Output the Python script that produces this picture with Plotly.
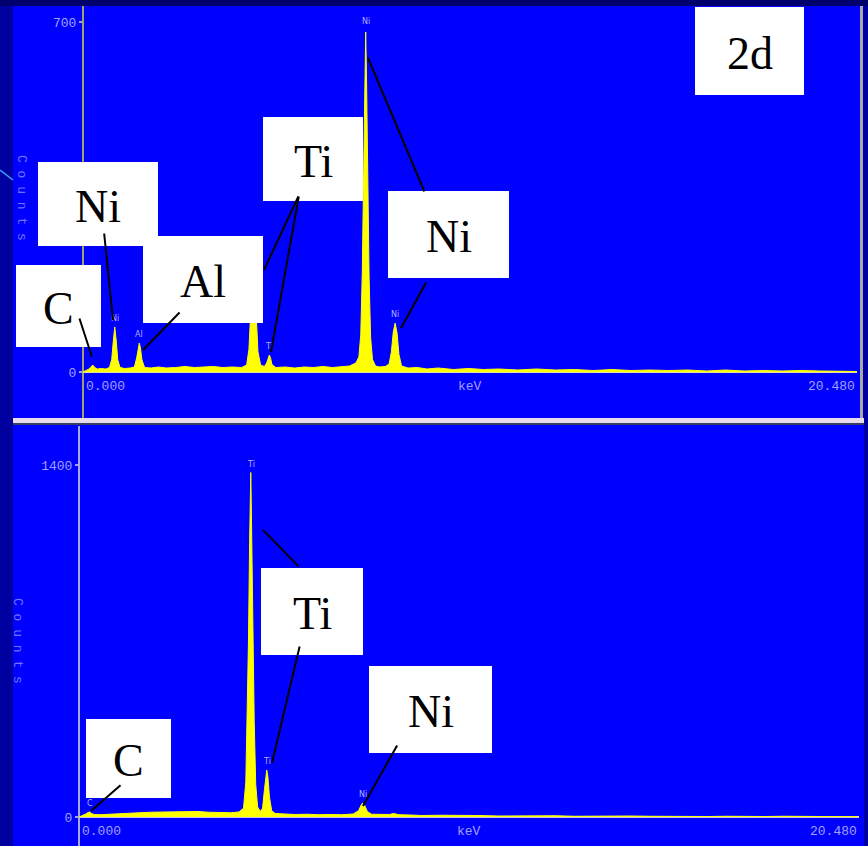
import plotly.graph_objects as go

W, H = 868, 846

# ---------------- data ----------------
# Top spectrum: energy (keV) and counts
top_kev = [0.00, 0.08, 0.16, 0.21, 0.26, 0.31, 0.38, 0.48, 0.60, 0.70, 0.76, 0.80, 0.84, 0.88, 0.92,
           0.98, 1.10, 1.25, 1.36, 1.42, 1.46, 1.49, 1.52, 1.56, 1.63, 1.80, 2.00, 2.20, 2.45, 2.70,
           2.95, 3.20, 3.45, 3.70, 3.95, 4.20, 4.33, 4.39, 4.44, 4.48, 4.51, 4.54, 4.58, 4.63, 4.70,
           4.80, 4.86, 4.90, 4.93, 4.96, 5.00, 5.10, 5.35, 5.60, 5.85, 6.10, 6.35, 6.60, 6.85, 7.05,
           7.22, 7.30, 7.35, 7.39, 7.43, 7.46, 7.48, 7.50, 7.53, 7.57, 7.61, 7.66, 7.74, 7.85, 8.00,
           8.10, 8.16, 8.21, 8.26, 8.31, 8.36, 8.43, 8.60, 8.85, 9.10, 9.40, 9.80, 10.2, 10.6, 11.0,
           11.5, 12.0, 12.5, 13.0, 13.5, 14.0, 14.5, 15.0, 15.5, 16.0, 16.5, 17.0, 17.5, 18.0, 18.5,
           19.0, 19.5, 20.0, 20.48]
top_counts = [0, 3, 6, 10, 14, 9, 6, 7, 6, 9, 25, 60, 90, 62, 24,
              9, 7, 8, 10, 28, 50, 58, 48, 24, 9, 8, 10, 8, 9, 11,
              9, 10, 11, 9, 10, 9, 14, 45, 130, 185, 190, 180, 120, 40, 14,
              11, 18, 30, 34, 29, 15, 9, 10, 8, 10, 9, 11, 9, 10, 12,
              18, 30, 75, 200, 420, 610, 680, 600, 410, 190, 70, 25, 12, 10, 11,
              16, 40, 80, 98, 78, 35, 12, 8, 9, 6, 8, 5, 7, 5, 6,
              4, 6, 4, 5, 3, 5, 3, 4, 3, 4, 2, 4, 2, 3, 2,
              3, 2, 2, 1]

# Bottom spectrum
bot_kev = [0.00, 0.10, 0.18, 0.24, 0.28, 0.33, 0.40, 0.55, 0.75, 1.00, 1.30, 1.60, 1.90, 2.20, 2.50,
           2.80, 3.10, 3.40, 3.70, 4.00, 4.20, 4.32, 4.38, 4.42, 4.45, 4.48, 4.50, 4.51, 4.52, 4.54,
           4.57, 4.60, 4.64, 4.69, 4.76, 4.82, 4.87, 4.91, 4.93, 4.96, 5.00, 5.06, 5.15, 5.40, 5.70,
           6.00, 6.30, 6.60, 6.90, 7.20, 7.34, 7.41, 7.45, 7.50, 7.57, 7.68, 7.95, 8.15, 8.26, 8.40,
           8.70, 9.00, 9.50, 10.0, 10.5, 11.0, 11.5, 12.0, 12.5, 13.0, 13.5, 14.0, 14.5, 15.0, 15.5,
           16.0, 16.5, 17.0, 17.5, 18.0, 18.5, 19.0, 19.5, 20.0, 20.48]
bot_counts = [0, 6, 12, 18, 20, 14, 10, 9, 11, 13, 15, 17, 19, 20, 22,
              20, 22, 19, 18, 17, 20, 35, 140, 420, 700, 1100, 1300, 1370, 1280, 1050,
              680, 380, 130, 40, 22, 35, 110, 175, 187, 160, 80, 25, 14, 12, 10,
              11, 9, 10, 9, 12, 25, 48, 56, 46, 22, 11, 9, 10, 14, 9,
              8, 6, 7, 5, 6, 4, 5, 4, 5, 3, 4, 3, 4, 3, 2,
              3, 2, 3, 2, 2, 3, 2, 2, 2, 1]

# small element markers printed above the peaks: (text, keV, counts)
top_peak_labels = [("Ni", 0.84, 90), ("Al", 1.49, 58), ("Ti", 4.93, 34), ("Ni", 7.48, 684), ("Ni", 8.26, 98)]
bot_peak_labels = [("C", 0.28, 20), ("Ti", 4.51, 1370), ("Ti", 4.93, 187), ("Ni", 7.45, 56)]

# tick labels
top_yticks = [0, 700]
bot_yticks = [0, 1400]
x_min_label, x_mid_label, x_max_label = "0.000", "keV", "20.480"
x_max_kev = 20.48

# callout boxes: texts per panel
box_texts_top = ["2d", "Ti", "Ni", "Ni", "Al", "C"]
box_texts_bot = ["Ti", "Ni", "C"]

# callout line heads (keV, counts) per panel
top_callouts = [(0.238, 30), (0.794, 104), (1.588, 44), (4.79, 204), (4.975, 40), (7.542, 628), (8.415, 88)]
bot_callouts = [(4.831, 1142), (5.067, 215), (7.456, 44), (0.315, 24)]

# ---------------- layout helpers ----------------
def fx(x):
    return x / W

def fy(y):
    return 1 - y / H

def rect(x0, y0, x1, y1, color, layer="below"):
    return dict(type="rect", xref="paper", yref="paper", x0=fx(x0), x1=fx(x1),
                y0=fy(y1), y1=fy(y0), fillcolor=color, line=dict(width=0), layer=layer)

fig = go.Figure()

YELLOW = "#ffff00"
fig.add_trace(go.Scatter(x=top_kev, y=top_counts, mode="lines", fill="tozeroy",
                         fillcolor=YELLOW, line=dict(color=YELLOW, width=1),
                         xaxis="x", yaxis="y", showlegend=False, hoverinfo="skip"))
fig.add_trace(go.Scatter(x=bot_kev, y=bot_counts, mode="lines", fill="tozeroy",
                         fillcolor=YELLOW, line=dict(color=YELLOW, width=1),
                         xaxis="x2", yaxis="y2", showlegend=False, hoverinfo="skip"))

TICKFONT = dict(family="Liberation Mono", size=13, color="#a0a0ff")

# top panel: 0 keV at px 83, 20.48 at px 857; 0 counts at px 372, 700 at px 22
top_scale = 0.5
top_y_lo = -(418 - 372) / top_scale
top_y_hi = (372 - 6) / top_scale
# bottom panel: 0 keV at px 79, 20.48 at px 859; 0 counts at 817, 1400 at 465
bot_scale = (817 - 465) / 1400
bot_y_lo = -(846 - 817) / bot_scale
bot_y_hi = (817 - 426) / bot_scale

axis_common = dict(showgrid=False, showticklabels=False, ticks="", showline=False, fixedrange=True)

fig.update_layout(
    width=W, height=H, margin=dict(l=0, r=0, t=0, b=0),
    paper_bgcolor="#0000a0", plot_bgcolor="rgba(0,0,0,0)",
    xaxis=dict(domain=[fx(83), fx(857)], range=[0, x_max_kev], anchor="y",
               zeroline=True, zerolinecolor="#a0a070", zerolinewidth=2, **axis_common),
    yaxis=dict(domain=[fy(418), fy(6)], range=[top_y_lo, top_y_hi], anchor="x",
               showgrid=False, zeroline=True, zerolinecolor="#e0e0a0", zerolinewidth=2,
               tickvals=top_yticks, ticktext=[str(v) for v in top_yticks], ticks="outside",
               ticklen=3, tickwidth=2, tickcolor="#a0a0ff", tickfont=TICKFONT, showline=False,
               fixedrange=True),
    xaxis2=dict(domain=[fx(79), fx(859)], range=[0, x_max_kev], anchor="y2",
                zeroline=True, zerolinecolor="#a8a8d8", zerolinewidth=2, **axis_common),
    yaxis2=dict(domain=[fy(846), fy(426)], range=[bot_y_lo, bot_y_hi], anchor="x2",
                showgrid=False, zeroline=True, zerolinecolor="#c0c0e8", zerolinewidth=2,
                tickvals=bot_yticks, ticktext=[str(v) for v in bot_yticks], ticks="outside",
                ticklen=3, tickwidth=2, tickcolor="#a0a0ff", tickfont=TICKFONT, showline=False,
                fixedrange=True),
)

shapes = [
    rect(0, 0, W, 6, "#00006c"),
    rect(13, 6, 860, 418, "#0000ff"),
    rect(860, 6, 863, 418, "#a8a8a8"),
    rect(13, 418, 864, 423, "#e6dcea"),
    rect(13, 423, 864, 425, "#3a3a66"),
    rect(13, 425, 864, 846, "#0000ff"),
    dict(type="line", xref="paper", yref="paper", x0=fx(0), y0=fy(170), x1=fx(13), y1=fy(180),
         line=dict(color="#40a0ff", width=1.5), layer="above"),
]

# label boxes (pixel rectangles)
top_boxes = [(695, 7, 804, 95), (263, 117, 363, 201), (38, 162, 158, 246),
             (388, 191, 509, 278), (143, 236, 263, 323), (16, 265, 101, 347)]
bot_boxes = [(261, 568, 363, 655), (369, 666, 492, 753), (86, 719, 171, 798)]

annotations = []

# tiny element labels above peaks
for (t, k, c) in top_peak_labels:
    annotations.append(dict(text=t, x=k, y=c, xref="x", yref="y", showarrow=False, yanchor="bottom",
                            yshift=2, font=dict(family="DejaVu Sans", size=8, color="#b0b0ff")))
for (t, k, c) in bot_peak_labels:
    annotations.append(dict(text=t, x=k, y=c, xref="x2", yref="y2", showarrow=False, yanchor="bottom",
                            yshift=2, font=dict(family="DejaVu Sans", size=8, color="#b0b0ff")))

# axis labels under the baseline
for xr, yr in (("x", "y"), ("x2", "y2")):
    annotations.append(dict(text=x_min_label, x=0, y=0, xref=xr, yref=yr, showarrow=False,
                            xanchor="left", yanchor="middle", xshift=1, yshift=-14, font=TICKFONT))
    annotations.append(dict(text=x_mid_label, x=x_max_kev / 2, y=0, xref=xr, yref=yr, showarrow=False,
                            xanchor="center", yanchor="middle", yshift=-14, font=TICKFONT))
    annotations.append(dict(text=x_max_label, x=x_max_kev, y=0, xref=xr, yref=yr, showarrow=False,
                            xanchor="right", yanchor="middle", yshift=-14, font=TICKFONT))

# vertical "Counts" titles
counts_txt = "\u00a0".join("Counts")
COUNTSFONT = dict(family="Liberation Mono", size=13, color="#7070ff")
annotations.append(dict(text=counts_txt, x=fx(22), y=fy(198), xref="paper", yref="paper",
                        xanchor="center", yanchor="middle", showarrow=False, textangle=90, font=COUNTSFONT))
annotations.append(dict(text=counts_txt, x=fx(18), y=fy(641), xref="paper", yref="paper",
                        xanchor="center", yanchor="middle", showarrow=False, textangle=90, font=COUNTSFONT))

# callout lines (head on the peak, tail towards the box; tail offsets in px)
top_tails = [(-13, -40), (-9, -88), (38, -39), (35, -75), (28, -157), (57, 135), (26, -47)]
bot_tails = [(37, 38), (28, -118), (35, -62), (31, -27)]
for (k, c), (ax, ay) in zip(top_callouts, top_tails):
    annotations.append(dict(text="", x=k, y=c, xref="x", yref="y", showarrow=True, arrowhead=0,
                            arrowwidth=2, arrowcolor="#000000", ax=ax, ay=ay))
for (k, c), (ax, ay) in zip(bot_callouts, bot_tails):
    annotations.append(dict(text="", x=k, y=c, xref="x2", yref="y2", showarrow=True, arrowhead=0,
                            arrowwidth=2, arrowcolor="#000000", ax=ax, ay=ay))

# boxes + big text
for txt, (x0, y0, x1, y1) in list(zip(box_texts_top, top_boxes)) + list(zip(box_texts_bot, bot_boxes)):
    shapes.append(rect(x0, y0, x1, y1, "#ffffff", layer="above"))
    annotations.append(dict(text=txt, x=fx((x0 + x1) / 2), y=fy((y0 + y1) / 2), xref="paper", yref="paper",
                            showarrow=False, xanchor="center", yanchor="middle", yshift=-2,
                            font=dict(family="Liberation Serif", size=46, color="#000000")))

fig.update_layout(shapes=shapes, annotations=annotations)
fig.write_html("out.html")
